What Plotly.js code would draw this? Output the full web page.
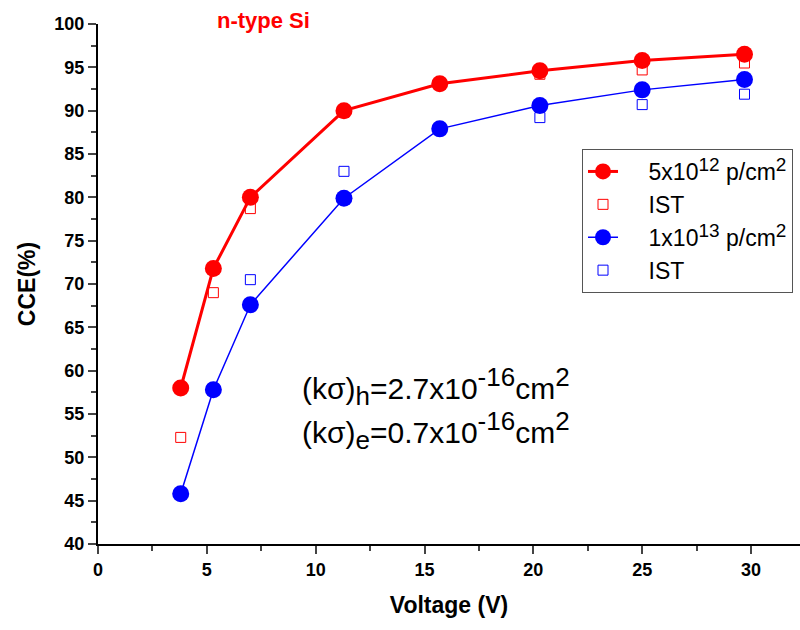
<!DOCTYPE html>
<html>
<head>
<meta charset="utf-8">
<script src="https://cdn.plot.ly/plotly-3.0.1.min.js"></script>
<style>html,body{margin:0;padding:0;background:#fff;}#chart{width:800px;height:630px;}</style>
</head>
<body>
<div id="chart"></div>
<script>
const voltage = [3.8, 5.3, 7.0, 11.3, 15.7, 20.3, 25.0, 29.7];
const cceLow = [58.0, 71.8, 80.0, 90.0, 93.1, 94.6, 95.8, 96.5];
const istLow = [52.3, 69.0, 78.7, 89.8, 93.0, 94.2, 94.7, 95.5];
const cceHigh = [45.8, 57.8, 67.6, 79.9, 87.9, 90.6, 92.4, 93.6];
const istHigh = [45.7, 57.9, 70.5, 83.0, 87.9, 89.2, 90.7, 91.9];
function sup(t, px) { return '<sup><span style="font-size:' + px + 'px">' + t + '</span></sup>'; }
function sub(t, px) { return '<sub><span style="font-size:' + px + 'px">' + t + '</span></sub>'; }
const PAD = '\u00a0\u00a0\u00a0\u00a0';
const seriesNames = [PAD + '5x10' + sup('12', 19) + ' p/cm' + sup('2', 19), PAD + 'IST',
                     PAD + '1x10' + sup('13', 19) + ' p/cm' + sup('2', 19), PAD + 'IST'];
const xTicks = [0, 5, 10, 15, 20, 25, 30];
const yTicks = [40, 45, 50, 55, 60, 65, 70, 75, 80, 85, 90, 95, 100];
const noteH = '(kσ)' + sub('h', 26) + '=2.7x10' + sup('-16', 26) + 'cm' + sup('2', 26);
const noteE = '(kσ)' + sub('e', 26) + '=0.7x10' + sup('-16', 26) + 'cm' + sup('2', 26);

const FONT = 'Liberation Sans, Arial, sans-serif';
const traces = [
  {x: voltage, y: cceLow, name: seriesNames[0], mode: 'lines+markers', type: 'scatter',
   line: {color: '#ff0000', width: 3}, marker: {symbol: 'circle', size: 17, color: '#ff0000'}},
  {x: voltage, y: istLow, name: seriesNames[1], mode: 'markers', type: 'scatter',
   marker: {symbol: 'square-open', size: 10, color: '#ff0000', line: {width: 1}}},
  {x: voltage, y: cceHigh, name: seriesNames[2], mode: 'lines+markers', type: 'scatter',
   line: {color: '#0000ff', width: 1.5}, marker: {symbol: 'circle', size: 17, color: '#0000ff'}},
  {x: voltage, y: istHigh, name: seriesNames[3], mode: 'markers', type: 'scatter',
   marker: {symbol: 'square-open', size: 10, color: '#0000ff', line: {width: 1}}}
];
const layout = {
  width: 800, height: 630,
  margin: {l: 98, r: 0, t: 24, b: 86},
  paper_bgcolor: '#fff', plot_bgcolor: '#fff',
  font: {family: FONT, color: '#000'},
  showlegend: true,
  legend: {x: (582-98)/702, y: (544-149)/520, xanchor: 'left', yanchor: 'top',
    bordercolor: '#555', borderwidth: 1, bgcolor: '#fff',
    font: {family: FONT, size: 23, color: '#000'}, itemsizing: 'trace', tracegroupgap: 0},
  xaxis: {range: [0, 32.25], tickvals: xTicks, ticks: 'outside', ticklen: 8, tickwidth: 2,
    showline: true, linewidth: 2, linecolor: '#000', showgrid: false, zeroline: false,
    tickfont: {family: FONT, size: 18, weight: 'bold'},
    minor: {dtick: 2.5, ticks: 'outside', ticklen: 5, tickwidth: 2, showgrid: false},
    title: {text: 'Voltage (V)', font: {family: FONT, size: 23, weight: 'bold'}, standoff: 18}},
  yaxis: {range: [40, 100], tickvals: yTicks, ticks: 'outside', ticklen: 8, tickwidth: 2,
    showline: true, linewidth: 2, linecolor: '#000', showgrid: false, zeroline: false,
    tickfont: {family: FONT, size: 18, weight: 'bold'},
    minor: {dtick: 2.5, ticks: 'outside', ticklen: 5, tickwidth: 2, showgrid: false},
    title: {text: 'CCE(%)', font: {family: FONT, size: 23, weight: 'bold'}, standoff: 12}},
  annotations: [
    {text: 'n-type Si', xref: 'paper', yref: 'paper', x: (263-98)/702, y: (544-20)/520,
     xanchor: 'center', yanchor: 'middle', showarrow: false,
     font: {family: FONT, size: 22, color: '#ff0000', weight: 'bold'}},
    {text: noteH, xref: 'paper', yref: 'paper',
     x: (300-98)/702, y: (544-386)/520, xanchor: 'left', yanchor: 'middle', showarrow: false,
     font: {family: FONT, size: 30, color: '#000'}},
    {text: noteE, xref: 'paper', yref: 'paper',
     x: (300-98)/702, y: (544-430)/520, xanchor: 'left', yanchor: 'middle', showarrow: false,
     font: {family: FONT, size: 30, color: '#000'}}
  ]
};
Plotly.newPlot('chart', traces, layout, {displayModeBar: false, responsive: false});
</script>
</body>
</html>
